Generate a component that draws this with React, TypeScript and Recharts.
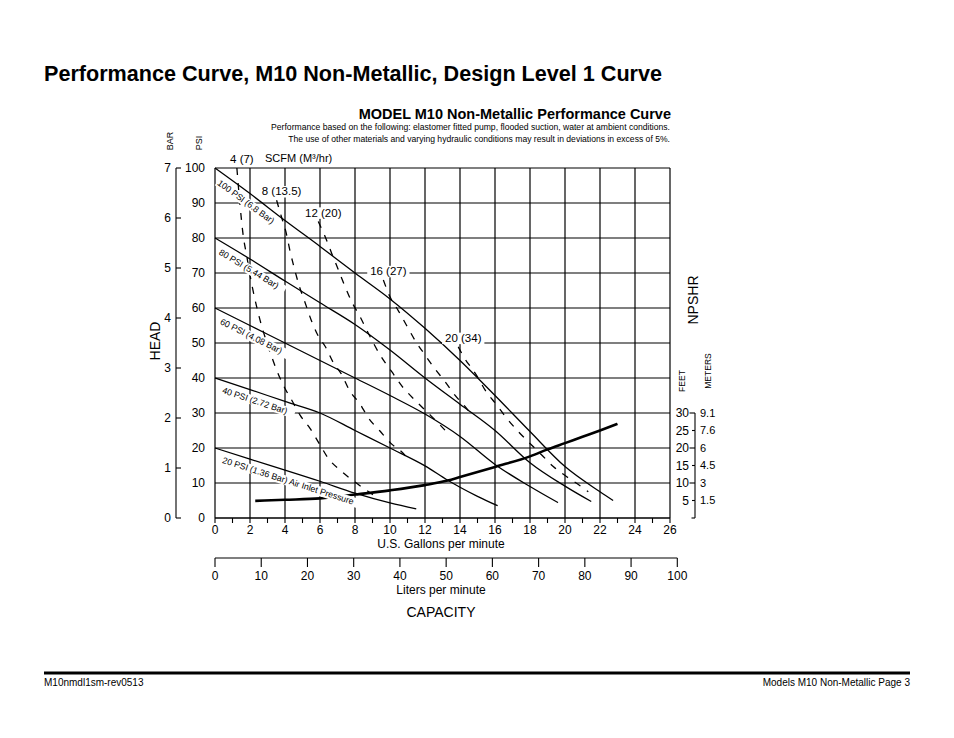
import React from "react";
import { ComposedChart, Line, XAxis, YAxis, CartesianGrid } from "recharts";

const FONT = '"Liberation Sans", Arial, Helvetica, sans-serif';
const INK = "#000";
const TICK_FS = 12;

// axis ticks
const gpmTicks = [0, 1, 2, 3, 4, 5, 6, 7, 8, 9, 10, 11, 12, 13, 14, 15, 16, 17, 18, 19, 20, 21, 22, 23, 24, 25, 26];
const gpmGrid = [0, 2, 4, 6, 8, 10, 12, 14, 16, 18, 20, 22, 24, 26];
const psiTicks = [0, 10, 20, 30, 40, 50, 60, 70, 80, 90, 100];
const barTicks = [0, 1, 2, 3, 4, 5, 6, 7];
const literTicks = [0, 10, 20, 30, 40, 50, 60, 70, 80, 90, 100];
const feetTicks = [5, 10, 15, 20, 25, 30];
const meterLabels = ["1.5", "3", "4.5", "6", "7.6", "9.1"];

// head (psi) vs flow (gpm) at each air inlet pressure
const head100 = [[0, 100], [2, 92.7], [4, 85], [6, 77.6], [8, 70], [10, 62.6], [12, 54.2], [14, 45], [16, 35], [18, 24.7], [20, 14.7], [22, 7.5], [22.75, 5]];
const head80 = [[0, 80], [2, 74], [4, 67.7], [6, 61.5], [8, 55.3], [10, 48], [12, 40], [14, 32.5], [16, 25], [18, 15.8], [20, 9.1], [21.5, 4.7]];
const head60 = [[0, 60], [2, 55], [4, 50], [6, 45], [8, 40], [10, 35], [12, 29.7], [14, 23.3], [16, 15.3], [18, 9], [19.6, 4.4]];
const head40 = [[0, 40], [2, 36.7], [4, 33.3], [6, 30], [8, 25], [10, 20], [12, 14.9], [13.3, 10.8], [14, 8.8], [15, 6.2], [16.15, 3.5]];
const head20 = [[0, 20], [2, 16.8], [4, 13.7], [6, 10.5], [8, 7.1], [10, 4.3], [11.5, 2.6]];
const pressureCurves = [head100, head80, head60, head40, head20];
const pressureLabels = [
  "100 PSI (6.8 Bar)",
  "80 PSI (5.44 Bar)",
  "60 PSI (4.08 Bar)",
  "40 PSI (2.72 Bar)",
  "20 PSI (1.36 Bar) Air Inlet Pressure",
];

// air consumption, SCFM (m3/hr)
const scfm4 = [[1.25, 100], [1.43, 89.4], [1.62, 80.4], [1.81, 75], [2.0, 69.4], [2.29, 62.3], [2.57, 56.6], [3.14, 47.5], [3.52, 42.3], [4.0, 37], [4.38, 33.7], [4.86, 29.4], [5.43, 25.6], [6.0, 20.9], [6.48, 17], [7.14, 13.7], [8.1, 9.9], [9.05, 6.6]];
const scfm8 = [[3.52, 90.8], [3.8, 86], [4.05, 81.8], [4.3, 76], [4.55, 71], [4.8, 66.5], [5.15, 61.5], [5.5, 56.5], [5.9, 52], [6.3, 49], [6.75, 44.5], [7.2, 41.3], [7.7, 36.3], [8.3, 32.5], [8.75, 28.7], [9.4, 25], [10.1, 21.1], [10.75, 18.5], [11.0, 17]];
const scfm12 = [[5.9, 84.7], [6.29, 80.4], [6.67, 75.6], [7.05, 70.9], [7.43, 66.1], [7.81, 61.8], [8.29, 57.5], [8.76, 52.8], [9.43, 46.6], [10.1, 41.8], [10.76, 37.2], [11.05, 35.6], [11.6, 32.8], [12.2, 29.9], [12.86, 26.6], [13.14, 25.1]];
const scfm16 = [[9.62, 68], [10.0, 63.2], [10.48, 59.2], [10.95, 55], [11.45, 50.6], [12.0, 46.6], [12.57, 42.6], [13.14, 39], [13.71, 35.1], [14.38, 31.3], [14.67, 29.4]];
const scfm20 = [[13.9, 48.9], [14.38, 44.7], [14.67, 42.8], [15.05, 39.9], [15.43, 36.6], [16.1, 32.3], [16.67, 28.5], [17.33, 24.7], [18.0, 21.3], [18.67, 18], [19.33, 14.7], [20.1, 11.8], [20.95, 8.9], [21.33, 7.5]];
const scfmCurves = [scfm4, scfm8, scfm12, scfm16, scfm20];
const scfmLabels = ["4 (7)", "8 (13.5)", "12 (20)", "16 (27)", "20 (34)"];

// NPSHr (feet) vs flow (gpm)
const npshr = [[2.3, 4.9], [4, 5.2], [6, 5.6], [8, 6.7], [10, 7.9], [12, 9.4], [13.3, 10.7], [14, 11.7], [16, 14.6], [18, 17.6], [19, 19.6], [20, 21.4], [21, 23.2], [22, 25], [23, 26.9]];

// layout
const W = 954;
const H = 738;
const MARGIN = { top: 168, right: 224, bottom: 130, left: 144 };
const PSI_W = 39;
const BAR_W = 32;
const FT_W = 60;
const GPM_H = 40;
const LPM_H = 50;
const PLOT_W = W - MARGIN.left - MARGIN.right - PSI_W - BAR_W - FT_W;
const PLOT_H = H - MARGIN.top - MARGIN.bottom - GPM_H - LPM_H;
const GPM_MAX = 26;
const L_PER_GAL = 3.78541;
const LPM_TICK = 9;
const LPM_GAP = 4;

const rows = (pts: number[][]) => pts.map(([x, y]) => ({ x, y }));

// spans the litre and bar scales so both secondary axes get drawn
const secondarySpan = rows([
  [literTicks[0], barTicks[0]],
  [literTicks[literTicks.length - 1], barTicks[barTicks.length - 1]],
]);

const slopeAngle = (pts: number[][]) => {
  const [[x0, y0], [x1, y1]] = pts;
  return (Math.atan2(((y0 - y1) * PLOT_H) / 100, ((x1 - x0) * PLOT_W) / GPM_MAX) * 180) / Math.PI;
};

function GpmTick({ x, y, payload }: any) {
  if (payload.value % 2 !== 0) return <g />;
  return (
    <text x={x} y={y} dy="0.71em" textAnchor="middle" fontSize={TICK_FS} fontFamily={FONT} fill={INK}>
      {payload.value}
    </text>
  );
}

function LiterTick({ x, y, payload }: any) {
  const axisY = y - LPM_TICK - LPM_GAP;
  const pxPerL = PLOT_W / (GPM_MAX * L_PER_GAL);
  const last = literTicks[literTicks.length - 1];
  return (
    <g>
      {payload.value === 0 && (
        <line x1={x} x2={x + last * pxPerL} y1={axisY} y2={axisY} stroke={INK} strokeWidth={1.2} />
      )}
      <text x={x} y={y} dy="0.71em" textAnchor="middle" fontSize={TICK_FS} fontFamily={FONT} fill={INK}>
        {payload.value}
      </text>
    </g>
  );
}

function BarTick({ x, y, payload }: any) {
  return (
    <g>
      <line x1={x} x2={x + 5} y1={y} y2={y} stroke={INK} strokeWidth={1.1} />
      <text x={x - 5} y={y} dy="0.355em" textAnchor="end" fontSize={TICK_FS} fontFamily={FONT} fill={INK}>
        {payload.value}
      </text>
    </g>
  );
}

function FeetTick({ x, y, payload }: any) {
  const v = payload.value;
  const lineX = x + 25;
  const step = (5 * PLOT_H) / 100;
  const long = v % 10 === 0;
  return (
    <g>
      <text x={x + 19} y={y} dy="0.355em" textAnchor="end" fontSize={TICK_FS} fontFamily={FONT} fill={INK}>
        {v}
      </text>
      <line x1={lineX - (long ? 5.5 : 3)} x2={lineX} y1={y} y2={y} stroke={INK} strokeWidth={1.1} />
      <line x1={lineX} x2={lineX} y1={y} y2={y + step} stroke={INK} strokeWidth={1.1} />
      {v === feetTicks[0] && <line x1={lineX - 3.5} x2={lineX} y1={y + step} y2={y + step} stroke={INK} strokeWidth={1.1} />}
      <text x={lineX + 5} y={y} dy="0.355em" fontSize={11} fontFamily={FONT} fill={INK}>
        {meterLabels[feetTicks.indexOf(v)]}
      </text>
    </g>
  );
}

const pressureDot = (label: string, angle: number) => (p: any) => {
  const { cx, cy, index } = p;
  if (index !== 0) return <g key={`p-${index}`} />;
  const fs = 8.8;
  const w = label.length * fs * 0.5;
  return (
    <g key="plabel" transform={`rotate(${angle} ${cx} ${cy})`}>
      <rect x={cx + 10} y={cy + 4.5} width={w + 2} height={9.5} fill="#fff" />
      <text x={cx + 11} y={cy + 12} fontSize={fs} fontFamily={FONT} fill={INK}>
        {label}
      </text>
    </g>
  );
};

const scfmDot = (label: string) => (p: any) => {
  const { cx, cy, index } = p;
  if (index !== 0) return <g key={`s-${index}`} />;
  const fs = 11.5;
  const w = label.length * fs * 0.5;
  return (
    <g key="slabel">
      <rect x={cx + 5 - w / 2 - 1} y={cy - 5 - fs * 0.8} width={w + 2} height={fs} fill="#fff" />
      <text x={cx + 5} y={cy - 5} textAnchor="middle" fontSize={fs} fontFamily={FONT} fill={INK}>
        {label}
      </text>
    </g>
  );
};

function Txt({ x, y, size, rot, bold, anchor, children }: any) {
  return (
    <text
      x={x}
      y={y}
      fontSize={size}
      fontWeight={bold ? "bold" : "normal"}
      textAnchor={anchor || "start"}
      transform={rot ? `rotate(${rot} ${x} ${y})` : undefined}
      dy={rot ? "0.35em" : undefined}
      fontFamily={FONT}
      fill={INK}
    >
      {children}
    </text>
  );
}

export default function App() {
  return (
    <div style={{ position: "absolute", left: 0, top: 0, width: W, height: H, background: "#fff" }}>
      <ComposedChart width={W} height={H} margin={MARGIN}>
        <XAxis
          xAxisId="a_gpm"
          dataKey="x"
          type="number"
          domain={[0, GPM_MAX]}
          ticks={gpmTicks}
          interval={0}
          height={GPM_H}
          tickSize={5}
          tickMargin={2}
          axisLine={{ stroke: INK, strokeWidth: 1.2 }}
          tickLine={{ stroke: INK, strokeWidth: 1.1 }}
          tick={(p: any) => <GpmTick {...p} />}
        />
        <XAxis
          xAxisId="b_lpm"
          dataKey="x"
          type="number"
          domain={[0, GPM_MAX * L_PER_GAL]}
          allowDataOverflow
          ticks={literTicks}
          interval={0}
          height={LPM_H}
          tickSize={LPM_TICK}
          tickMargin={LPM_GAP}
          axisLine={false}
          tickLine={{ stroke: INK, strokeWidth: 1.1 }}
          tick={(p: any) => <LiterTick {...p} />}
        />
        <YAxis
          yAxisId="b_bar"
          type="number"
          domain={[0, 7]}
          allowDataOverflow
          ticks={barTicks}
          interval={0}
          width={BAR_W}
          tickSize={0}
          tickMargin={0}
          tickLine={false}
          axisLine={{ stroke: INK, strokeWidth: 1.1 }}
          tick={(p: any) => <BarTick {...p} />}
        />
        <YAxis
          yAxisId="a_psi"
          type="number"
          domain={[0, 100]}
          ticks={psiTicks}
          interval={0}
          width={PSI_W}
          tickSize={0}
          tickMargin={10}
          tickLine={false}
          axisLine={false}
          tick={{ fill: INK, fontSize: TICK_FS, fontFamily: FONT }}
        />
        <YAxis
          yAxisId="ft"
          orientation="right"
          type="number"
          domain={[0, 100]}
          ticks={feetTicks}
          interval={0}
          width={FT_W}
          tickSize={0}
          tickMargin={0}
          tickLine={false}
          axisLine={false}
          tick={(p: any) => <FeetTick {...p} />}
        />
        <CartesianGrid
          xAxisId="a_gpm"
          yAxisId="a_psi"
          stroke={INK}
          strokeWidth={1.2}
          verticalCoordinatesGenerator={({ offset }: any) =>
            gpmGrid.map((g) => offset.left + (g / GPM_MAX) * offset.width)
          }
        />
        <Line
          data={secondarySpan}
          dataKey="y"
          xAxisId="b_lpm"
          yAxisId="b_bar"
          stroke="none"
          dot={false}
          activeDot={false}
          isAnimationActive={false}
        />
        <Line
          data={rows(npshr)}
          dataKey="y"
          xAxisId="a_gpm"
          yAxisId="ft"
          type="monotone"
          stroke={INK}
          strokeWidth={2.6}
          dot={false}
          activeDot={false}
          isAnimationActive={false}
        />
        {pressureCurves.map((c, i) => (
          <Line
            key={pressureLabels[i]}
            data={rows(c)}
            dataKey="y"
            xAxisId="a_gpm"
            yAxisId="a_psi"
            type="monotone"
            stroke={INK}
            strokeWidth={1.3}
            dot={pressureDot(pressureLabels[i], slopeAngle(c))}
            activeDot={false}
            isAnimationActive={false}
          />
        ))}
        {scfmCurves.map((c, i) => (
          <Line
            key={scfmLabels[i]}
            data={rows(c)}
            dataKey="y"
            xAxisId="a_gpm"
            yAxisId="a_psi"
            type="monotone"
            stroke={INK}
            strokeWidth={1.3}
            strokeDasharray="7 8"
            dot={scfmDot(scfmLabels[i])}
            activeDot={false}
            isAnimationActive={false}
          />
        ))}
      </ComposedChart>
      <svg width={W} height={H} style={{ position: "absolute", left: 0, top: 0, pointerEvents: "none" }}>
        <Txt x={44} y={81} size={21.6} bold>
          Performance Curve, M10 Non-Metallic, Design Level 1 Curve
        </Txt>
        <Txt x={671} y={118.5} size={14.5} bold anchor="end">
          MODEL M10 Non-Metallic Performance Curve
        </Txt>
        <Txt x={670} y={129.5} size={8.6} anchor="end">
          Performance based on the following: elastomer fitted pump, flooded suction, water at ambient conditions.
        </Txt>
        <Txt x={670} y={141.5} size={8.6} anchor="end">
          The use of other materials and varying hydraulic conditions may result in deviations in excess of 5%.
        </Txt>
        <Txt x={170} y={141} size={9} rot={-90} anchor="middle">BAR</Txt>
        <Txt x={199} y={143} size={9} rot={-90} anchor="middle">PSI</Txt>
        <Txt x={265} y={162} size={11}>SCFM (M³/hr)</Txt>
        <Txt x={155} y={341} size={14} rot={-90} anchor="middle">HEAD</Txt>
        <Txt x={693} y={300} size={14} rot={-90} anchor="middle">NPSHR</Txt>
        <Txt x={682} y={381} size={8.5} rot={-90} anchor="middle">FEET</Txt>
        <Txt x={708} y={371} size={8.5} rot={-90} anchor="middle">METERS</Txt>
        <Txt x={441} y={548} size={12} anchor="middle">U.S. Gallons per minute</Txt>
        <Txt x={441} y={594} size={12} anchor="middle">Liters per minute</Txt>
        <Txt x={441} y={617} size={14} anchor="middle">CAPACITY</Txt>
        <line x1={44} x2={910} y1={673} y2={673} stroke={INK} strokeWidth={3} />
        <Txt x={44} y={686} size={10}>M10nmdl1sm-rev0513</Txt>
        <Txt x={910} y={686} size={10} anchor="end">Models M10 Non-Metallic  Page 3</Txt>
      </svg>
    </div>
  );
}
